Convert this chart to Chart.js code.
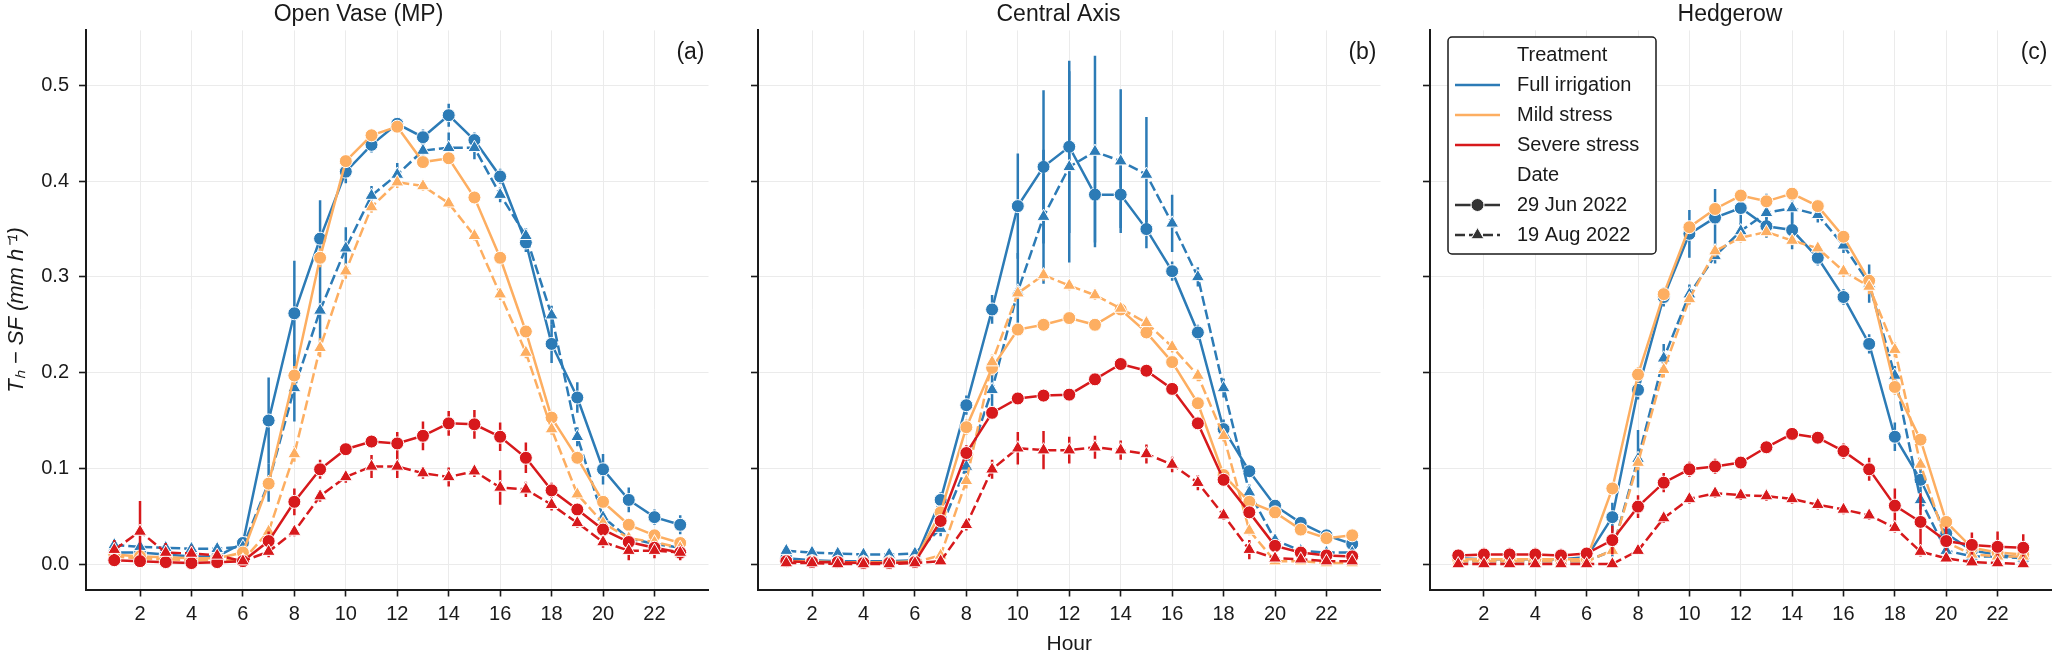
<!DOCTYPE html>
<html>
<head>
<meta charset="utf-8">
<script src="https://cdn.jsdelivr.net/npm/chart.js@4.4.1/dist/chart.umd.min.js"></script>
<style>
  body { margin: 0; background: #fff; }
  #wrap { position: relative; width: 2067px; height: 654px; background: #fff; }
  #wrap canvas { position: absolute; top: 0; }
</style>
</head>
<body>
<div id="wrap">
  <canvas id="c0" width="717" height="654" style="left:0px"></canvas>
  <canvas id="c1" width="661" height="654" style="left:728px"></canvas>
  <canvas id="c2" width="660" height="654" style="left:1400px"></canvas>
</div>
<script>
// ---- data ----
const hours = [1,2,3,4,5,6,7,8,9,10,11,12,13,14,15,16,17,18,19,20,21,22,23];
const xTickValues = [2,4,6,8,10,12,14,16,18,20,22];
const yTickValues = [0,0.1,0.2,0.3,0.4,0.5];
const panelTitles = ['Open Vase (MP)', 'Central Axis', 'Hedgerow'];
const panelTags = ['(a)', '(b)', '(c)'];
const treatments = ['Full irrigation', 'Mild stress', 'Severe stress'];
const dates = ['29 Jun 2022', '19 Aug 2022'];

// Open Vase (MP)
const ovFullJun    = [0.012,0.012,0.010,0.008,0.008,0.022,0.150,0.262,0.340,0.410,0.438,0.460,0.446,0.469,0.443,0.405,0.336,0.230,0.174,0.099,0.067,0.049,0.041];
const ovFullJunErr = [0.003,0.003,0.002,0.002,0.002,0.005,0.045,0.055,0.040,0.012,0.008,0.006,0.008,0.012,0.008,0.008,0.010,0.020,0.016,0.016,0.013,0.008,0.010];
const ovFullAug    = [0.020,0.018,0.017,0.016,0.016,0.018,0.085,0.184,0.265,0.330,0.385,0.407,0.432,0.435,0.435,0.386,0.343,0.260,0.133,0.049,0.027,0.021,0.017];
const ovFullAugErr = [0.004,0.003,0.003,0.003,0.003,0.004,0.020,0.035,0.035,0.022,0.010,0.012,0.008,0.016,0.012,0.008,0.008,0.010,0.010,0.006,0.004,0.003,0.003];
const ovMildJun    = [0.010,0.008,0.007,0.006,0.006,0.012,0.084,0.197,0.320,0.421,0.448,0.457,0.420,0.424,0.383,0.320,0.243,0.153,0.111,0.065,0.041,0.030,0.022];
const ovMildJunErr = [0.003,0.003,0.002,0.002,0.002,0.003,0.008,0.010,0.010,0.006,0.005,0.005,0.005,0.006,0.005,0.005,0.006,0.006,0.005,0.004,0.003,0.003,0.003];
const ovMildAug    = [0.008,0.006,0.005,0.004,0.004,0.004,0.034,0.115,0.226,0.306,0.373,0.399,0.395,0.377,0.343,0.282,0.221,0.141,0.073,0.043,0.027,0.023,0.017];
const ovMildAugErr = [0.003,0.002,0.002,0.002,0.002,0.002,0.006,0.008,0.010,0.008,0.006,0.006,0.005,0.005,0.005,0.006,0.006,0.006,0.005,0.004,0.003,0.003,0.003];
const ovSevJun     = [0.004,0.003,0.002,0.001,0.002,0.003,0.024,0.065,0.099,0.120,0.128,0.126,0.134,0.147,0.146,0.133,0.111,0.077,0.057,0.036,0.023,0.017,0.012];
const ovSevJunErr  = [0.004,0.004,0.003,0.003,0.003,0.003,0.010,0.014,0.010,0.006,0.006,0.012,0.015,0.013,0.015,0.015,0.016,0.008,0.005,0.005,0.004,0.004,0.004];
const ovSevAug     = [0.015,0.034,0.012,0.011,0.009,0.003,0.013,0.034,0.071,0.091,0.102,0.102,0.095,0.091,0.097,0.080,0.078,0.062,0.043,0.023,0.014,0.014,0.012];
const ovSevAugErr  = [0.010,0.032,0.010,0.008,0.006,0.003,0.006,0.005,0.006,0.006,0.012,0.012,0.006,0.010,0.006,0.018,0.008,0.006,0.005,0.006,0.010,0.008,0.008];

// Central Axis
const caFullJun    = [0.006,0.004,0.003,0.003,0.003,0.004,0.067,0.166,0.266,0.374,0.415,0.436,0.386,0.386,0.350,0.306,0.242,0.141,0.097,0.061,0.043,0.030,0.021];
const caFullJunErr = [0.002,0.002,0.002,0.002,0.002,0.002,0.008,0.010,0.015,0.055,0.080,0.090,0.050,0.035,0.020,0.010,0.008,0.010,0.006,0.005,0.004,0.004,0.004];
const caFullAug    = [0.014,0.012,0.011,0.010,0.010,0.011,0.037,0.102,0.182,0.285,0.363,0.415,0.431,0.421,0.407,0.356,0.300,0.184,0.075,0.025,0.014,0.012,0.012];
const caFullAugErr = [0.003,0.003,0.002,0.002,0.002,0.003,0.008,0.012,0.018,0.040,0.070,0.100,0.100,0.075,0.060,0.030,0.010,0.010,0.008,0.004,0.003,0.003,0.003];
const caMildJun    = [0.003,0.003,0.002,0.002,0.002,0.003,0.054,0.143,0.205,0.245,0.250,0.257,0.250,0.266,0.242,0.211,0.168,0.093,0.065,0.054,0.036,0.027,0.030];
const caMildJunErr = [0.002,0.002,0.002,0.002,0.002,0.002,0.006,0.008,0.008,0.006,0.005,0.005,0.005,0.006,0.005,0.006,0.006,0.006,0.005,0.004,0.003,0.003,0.003];
const caMildAug    = [0.002,0.002,0.002,0.002,0.002,0.002,0.009,0.087,0.211,0.283,0.302,0.291,0.281,0.267,0.252,0.227,0.197,0.134,0.035,0.003,0.003,0.001,0.001];
const caMildAugErr = [0.002,0.002,0.002,0.002,0.002,0.002,0.004,0.008,0.008,0.006,0.006,0.005,0.005,0.005,0.005,0.006,0.006,0.006,0.005,0.002,0.002,0.002,0.002];
const caSevJun     = [0.003,0.002,0.002,0.001,0.001,0.002,0.045,0.116,0.158,0.173,0.176,0.177,0.193,0.209,0.202,0.183,0.147,0.088,0.054,0.019,0.012,0.009,0.008];
const caSevJunErr  = [0.002,0.002,0.002,0.002,0.002,0.002,0.006,0.008,0.006,0.005,0.005,0.005,0.005,0.005,0.005,0.006,0.006,0.005,0.005,0.004,0.003,0.003,0.003];
const caSevAug     = [0.001,0.001,0.000,0.000,0.000,0.001,0.003,0.041,0.099,0.121,0.119,0.119,0.122,0.119,0.115,0.104,0.085,0.051,0.015,0.006,0.005,0.003,0.003];
const caSevAugErr  = [0.002,0.002,0.002,0.002,0.002,0.002,0.003,0.006,0.010,0.017,0.020,0.014,0.012,0.010,0.010,0.008,0.008,0.005,0.010,0.004,0.003,0.003,0.003];

// Hedgerow
const hgFullJun    = [0.006,0.005,0.005,0.005,0.005,0.007,0.049,0.182,0.279,0.345,0.362,0.372,0.353,0.349,0.320,0.279,0.230,0.133,0.088,0.032,0.014,0.010,0.006];
const hgFullJunErr = [0.002,0.002,0.002,0.002,0.002,0.002,0.015,0.010,0.010,0.025,0.030,0.020,0.012,0.020,0.008,0.008,0.010,0.015,0.012,0.008,0.004,0.003,0.003];
const hgFullAug    = [0.003,0.003,0.003,0.003,0.003,0.003,0.014,0.110,0.215,0.282,0.322,0.348,0.367,0.372,0.365,0.333,0.293,0.197,0.067,0.014,0.008,0.008,0.006];
const hgFullAugErr = [0.002,0.002,0.002,0.002,0.002,0.002,0.006,0.030,0.015,0.010,0.008,0.008,0.020,0.020,0.008,0.008,0.020,0.010,0.010,0.004,0.003,0.003,0.003];
const hgMildJun    = [0.005,0.005,0.005,0.005,0.005,0.005,0.079,0.198,0.282,0.352,0.371,0.385,0.379,0.387,0.374,0.342,0.296,0.185,0.130,0.044,0.017,0.012,0.010];
const hgMildJunErr = [0.002,0.002,0.002,0.002,0.002,0.002,0.006,0.008,0.006,0.006,0.005,0.005,0.005,0.005,0.005,0.006,0.006,0.008,0.006,0.004,0.003,0.003,0.003];
const hgMildAug    = [0.003,0.003,0.003,0.003,0.003,0.003,0.014,0.106,0.203,0.277,0.327,0.341,0.347,0.338,0.330,0.306,0.290,0.224,0.104,0.023,0.010,0.008,0.008];
const hgMildAugErr = [0.002,0.002,0.002,0.002,0.002,0.002,0.004,0.008,0.008,0.006,0.006,0.005,0.005,0.005,0.005,0.006,0.008,0.008,0.006,0.004,0.003,0.003,0.003];
const hgSevJun     = [0.009,0.010,0.010,0.010,0.009,0.011,0.025,0.060,0.085,0.099,0.102,0.106,0.122,0.136,0.132,0.118,0.099,0.061,0.044,0.024,0.020,0.018,0.017];
const hgSevJunErr  = [0.006,0.007,0.007,0.007,0.007,0.006,0.015,0.012,0.010,0.008,0.008,0.006,0.005,0.005,0.005,0.008,0.012,0.018,0.030,0.015,0.013,0.016,0.014];
const hgSevAug     = [0.000,0.000,0.000,0.000,0.000,0.000,0.000,0.014,0.048,0.068,0.074,0.072,0.071,0.068,0.062,0.057,0.051,0.038,0.013,0.006,0.002,0.001,0.000];
const hgSevAugErr  = [0.002,0.002,0.002,0.002,0.002,0.002,0.002,0.004,0.005,0.005,0.005,0.005,0.005,0.005,0.005,0.005,0.005,0.005,0.005,0.003,0.002,0.002,0.002];

// ---- style ----
const colors = ['#2c7bb6', '#fdae61', '#d7191c'];
const FONT = "'Liberation Sans', Arial, sans-serif";
const yMin = -0.0266, yMax = 0.5576;
const xMin = -0.1, xMax = 24.1;

Chart.defaults.font.family = FONT;
Chart.defaults.color = '#1a1a1a';

const panels = [
  { title: panelTitles[0], tag: panelTags[0], yw: 86, series: [
      [ovFullJun, ovFullJunErr, ovFullAug, ovFullAugErr],
      [ovMildJun, ovMildJunErr, ovMildAug, ovMildAugErr],
      [ovSevJun, ovSevJunErr, ovSevAug, ovSevAugErr]] },
  { title: panelTitles[1], tag: panelTags[1], yw: 30, series: [
      [caFullJun, caFullJunErr, caFullAug, caFullAugErr],
      [caMildJun, caMildJunErr, caMildAug, caMildAugErr],
      [caSevJun, caSevJunErr, caSevAug, caSevAugErr]] },
  { title: panelTitles[2], tag: panelTags[2], yw: 30, series: [
      [hgFullJun, hgFullJunErr, hgFullAug, hgFullAugErr],
      [hgMildJun, hgMildJunErr, hgMildAug, hgMildAugErr],
      [hgSevJun, hgSevJunErr, hgSevAug, hgSevAugErr]] }
];

function buildDatasets(series) {
  const ds = [];
  series.forEach((s, t) => {
    for (let d = 0; d < 2; d++) {
      const vals = s[d * 2], errs = s[d * 2 + 1];
      const k = t * 2 + d;
      const errData = [];
      hours.forEach((h, i) => {
        errData.push({x: h, y: vals[i] - errs[i]}, {x: h, y: vals[i] + errs[i]}, {x: h, y: null});
      });
      // error bars (vertical segments, broken by nulls)
      ds.push({
        data: errData, borderColor: colors[t], borderWidth: 2.5, pointRadius: 0,
        spanGaps: false, borderCapStyle: 'butt', order: 100 - k * 2 + 1
      });
      ds.push({
        data: hours.map((h, i) => ({x: h, y: vals[i]})),
        borderColor: colors[t], backgroundColor: colors[t], borderWidth: 2.5,
        borderDash: d ? [10, 4] : [],
        pointStyle: d ? 'triangle' : 'circle', pointRadius: d ? 7.5 : 6.5,
        pointBackgroundColor: colors[t], pointBorderColor: '#ffffff', pointBorderWidth: 1,
        tension: 0, order: 100 - k * 2
      });
    }
  });
  return ds;
}

// tag like (a) in the upper right corner
const tagPlugin = {
  id: 'tagPlugin',
  afterDraw(chart, args, opts) {
    const {ctx, chartArea} = chart;
    ctx.save();
    ctx.font = '23px ' + FONT;
    ctx.fillStyle = '#1a1a1a';
    ctx.textAlign = 'right';
    ctx.textBaseline = 'middle';
    ctx.fillText(opts.text, chartArea.right - 4, 53);
    ctx.restore();
  }
};

// two-part legend (Treatment / Date) drawn inside panel (c)
const boxLegend = {
  id: 'boxLegend',
  afterDraw(chart, args, opts) {
    if (!opts.show) return;
    const {ctx, chartArea} = chart;
    const bx = chartArea.left + 18, by = 37, bw = 208, bh = 217;
    ctx.save();
    ctx.beginPath();
    ctx.roundRect(bx, by, bw, bh, 4);
    ctx.fillStyle = '#ffffff';
    ctx.fill();
    ctx.lineWidth = 1.5;
    ctx.strokeStyle = '#1a1a1a';
    ctx.stroke();
    ctx.font = '20px ' + FONT;
    ctx.textBaseline = 'middle';
    ctx.textAlign = 'left';
    ctx.fillStyle = '#1a1a1a';
    const tx = bx + 69, sx0 = bx + 7, sx1 = bx + 52;
    let y = by + 18;
    const step = 30;
    ctx.fillText('Treatment', tx, y);
    treatments.forEach((name, t) => {
      y += step;
      ctx.beginPath();
      ctx.moveTo(sx0, y); ctx.lineTo(sx1, y);
      ctx.strokeStyle = colors[t]; ctx.lineWidth = 2.5; ctx.setLineDash([]);
      ctx.stroke();
      ctx.fillText(name, tx, y);
    });
    y += step;
    ctx.fillText('Date', tx, y);
    dates.forEach((name, d) => {
      y += step;
      ctx.beginPath();
      ctx.moveTo(sx0, y); ctx.lineTo(sx1, y);
      ctx.strokeStyle = '#333333'; ctx.lineWidth = 2.5;
      ctx.setLineDash(d ? [10, 4] : []);
      ctx.stroke();
      ctx.setLineDash([]);
      ctx.fillStyle = '#333333'; ctx.strokeStyle = '#ffffff'; ctx.lineWidth = 1;
      Chart.helpers.drawPoint(ctx, {pointStyle: d ? 'triangle' : 'circle', radius: d ? 7.5 : 6.5, borderWidth: 1}, (sx0 + sx1) / 2, y);
      ctx.fillStyle = '#1a1a1a';
      ctx.fillText(name, tx, y);
    });
    ctx.restore();
  }
};

panels.forEach((p, idx) => {
  new Chart(document.getElementById('c' + idx), {
    type: 'line',
    data: { datasets: buildDatasets(p.series) },
    plugins: [tagPlugin, boxLegend],
    options: {
      responsive: false,
      animation: false,
      events: [],
      layout: { padding: 0 },
      plugins: {
        legend: { display: false },
        tooltip: { enabled: false },
        title: { display: true, text: p.title, font: { size: 23, weight: 'normal' }, color: '#1a1a1a', padding: { top: 1, bottom: 1.8 } },
        tagPlugin: { text: p.tag },
        boxLegend: { show: idx === 2 }
      },
      scales: {
        x: {
          type: 'linear', min: xMin, max: xMax,
          afterBuildTicks: s => { s.ticks = xTickValues.map(v => ({value: v})); },
          afterFit: s => { s.height = 64.5; },
          ticks: { font: { size: 20 }, color: '#1a1a1a', padding: 6, maxRotation: 0, callback: v => String(v) },
          grid: { color: '#ebebeb', lineWidth: 1, tickColor: '#1a1a1a', tickLength: 7, tickWidth: 1.6 },
          border: { display: true, color: '#1a1a1a', width: 2 },
          title: { display: idx === 1, text: 'Hour', font: { size: 21 }, color: '#1a1a1a', padding: { top: 0, bottom: -3 } }
        },
        y: {
          type: 'linear', min: yMin, max: yMax,
          afterBuildTicks: s => { s.ticks = yTickValues.map(v => ({value: v})); },
          afterFit: s => { s.width = p.yw; },
          ticks: { font: { size: 20 }, color: '#1a1a1a', padding: 10, callback: v => idx === 0 ? v.toFixed(1) : '' },
          grid: { color: '#ebebeb', lineWidth: 1, tickColor: '#1a1a1a', tickLength: 7, tickWidth: 1.6 },
          border: { display: true, color: '#1a1a1a', width: 2 },
          title: { display: idx === 0, text: 'Tₕ − SF (mm h⁻¹)', font: { size: 22, style: 'italic' }, color: '#1a1a1a', padding: { top: 4, bottom: 0 } }
        }
      }
    }
  });
});
</script>
</body>
</html>
